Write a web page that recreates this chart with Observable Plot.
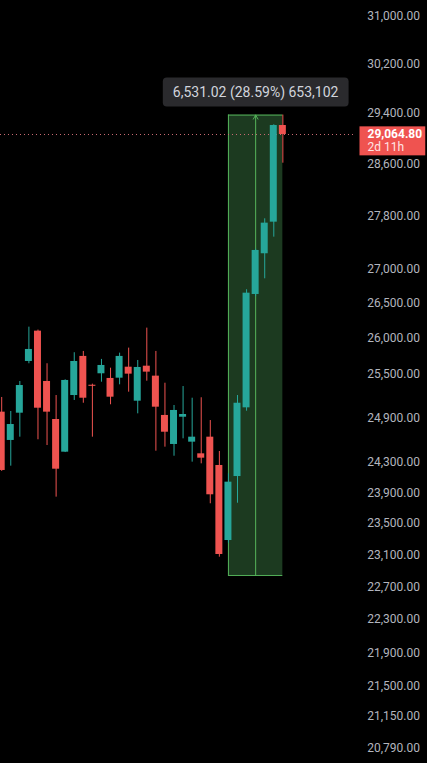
<!DOCTYPE html>
<html><head><meta charset="utf-8">
<script src="https://cdn.jsdelivr.net/npm/d3@7"></script>
<script src="https://cdn.jsdelivr.net/npm/@observablehq/plot@0.6"></script>
<style>
html,body{margin:0;padding:0;background:#000;}
#chart{width:427px;height:763px;overflow:hidden;}
</style></head><body><div id="chart"></div>
<script>
// OHLC values (daily candles)
const opens  = [24975,24592,24961,25676,26105,25397,24875,24435,25203,25747,25345,25504,25439,25443,25596,25125,25610,25471,24930,24538,24906,24569,24413,24636,24258,23284,24112,25034,26633,27232,27706,29208];
const highs  = [25176,24984,25397,26162,26120,25644,25203,25420,25799,25817,25360,25705,25582,25793,25864,25690,26148,25817,25373,25066,25327,25166,25172,24861,24444,24148,25203,26702,27300,27757,29220,29374.74];
const lows   = [24180,24249,24636,25644,24601,24524,23842,24430,25135,25097,24636,25387,25076,25351,25249,24952,25401,24448,24502,24381,24614,24302,24280,23756,23073,23250,23763,24988,26600,26862,27480,28613];
const closes = [24192,24807,25341,25845,25029,24975,24209,25411,25676,25166,25330,25620,25180,25747,25499,25592,25527,25043,24703,24998,24943,24636,24355,23873,23107,24038,25097,26652,27281,27691,29208,29064.80];

const yTicks = [31000,30200,29400,28600,27800,27000,26500,26000,25500,24900,24300,23900,23500,23100,22700,22300,21900,21500,21150,20790];

// price-range measurement
const rangeStart = [25];
const rangeEnd   = [31];
const rangeLow   = [22843.72];
const rangeHigh  = [29374.74];
const rangeLabel = ["6,531.02 (28.59%) 653,102"];

// last price marker
const lastPrice = [29064.80];
const lastLabel = ["29,064.80"];
const countdown = ["2d 11h"];

const UP = "#26a69a", DOWN = "#ef5350", GREEN = "#55b45a";
const candles = opens.map((o, i) => ({i, open: o, high: highs[i], low: lows[i], close: closes[i], up: closes[i] >= o}));
const range = rangeStart.map((s, k) => ({start: s, end: rangeEnd[k], low: rangeLow[k], high: rangeHigh[k], mid: (s + rangeEnd[k]) / 2, label: rangeLabel[k]}));
const last = lastPrice.map((p, k) => ({price: p, label: lastLabel[k], countdown: countdown[k]}));
const half = 0.385;

const plot = Plot.plot({
  width: 427, height: 763,
  marginTop: 0, marginBottom: 0, marginLeft: 0, marginRight: 72,
  style: {background: "#000", fontFamily: "Roboto, sans-serif", fontSize: "12px"},
  x: {type: "linear", domain: [-0.132, 39.01], axis: null},
  y: {type: "log", domain: [20614, 31272], label: null},
  marks: [
    Plot.rect(range, {x1: "start", x2: "end", y1: "low", y2: "high", fill: "#1c3a20"}),
    Plot.ruleY(range, {x1: "start", x2: "end", y: "high", stroke: GREEN}),
    Plot.ruleY(range, {x1: "start", x2: "end", y: "low", stroke: GREEN}),
    Plot.ruleX(range, {x: "start", y1: "low", y2: "high", stroke: GREEN}),
    Plot.arrow(range, {x: "mid", y1: "low", y2: "high", stroke: GREEN, strokeWidth: 1, headLength: 7}),
    Plot.ruleY(last, {y: "price", stroke: "#c86a72", strokeDasharray: "1,3"}),
    Plot.ruleX(candles, {x: "i", y1: "low", y2: "high", stroke: d => d.up ? UP : DOWN}),
    Plot.rect(candles, {x1: d => d.i - half, x2: d => d.i + half, y1: "open", y2: "close", fill: d => d.up ? UP : DOWN}),
    Plot.axisY({anchor: "right", ticks: yTicks, tickSize: 0, tickPadding: 64.5, textAnchor: "end",
      tickFormat: d3.format(",.2f"), color: "#b2b5be", fontSize: 12, label: null}),
    Plot.text(range, {x: "mid", y: "high", text: "label", dy: -23, fill: "#d1d4dc", fontSize: 14}),
    Plot.text(last, {y: "price", text: "label", frameAnchor: "right", dx: 12, textAnchor: "start", fill: "#ffffff", fontWeight: "bold", fontSize: 12}),
    Plot.text(last, {y: "price", text: "countdown", frameAnchor: "right", dx: 12, dy: 13, textAnchor: "start", fill: "#ffe4e4", fontSize: 12})
  ]
});
document.getElementById("chart").append(plot);

// background boxes behind the labels, sized from the rendered text
const NS = "http://www.w3.org/2000/svg";
const textGroups = plot.querySelectorAll('g[aria-label="text"]');
function boxBehind(groups, fill, padL, padR, padT, padB, rx) {
  const s = plot.getBoundingClientRect();
  let x0 = Infinity, y0 = Infinity, x1 = -Infinity, y1 = -Infinity;
  groups.forEach(g => {
    const b = g.getBoundingClientRect();
    x0 = Math.min(x0, b.left - s.left); y0 = Math.min(y0, b.top - s.top);
    x1 = Math.max(x1, b.right - s.left); y1 = Math.max(y1, b.bottom - s.top);
  });
  const r = document.createElementNS(NS, "rect");
  r.setAttribute("x", x0 - padL); r.setAttribute("y", y0 - padT);
  r.setAttribute("width", x1 - x0 + padL + padR); r.setAttribute("height", y1 - y0 + padT + padB);
  r.setAttribute("rx", rx); r.setAttribute("fill", fill);
  plot.insertBefore(r, groups[0]);
}
if (textGroups.length >= 3) {
  boxBehind([textGroups[0]], "#2a2a2d", 10, 10, 6, 6, 4);
  boxBehind([textGroups[1], textGroups[2]], "#ef5350", 8, 3, 1, 1, 0);
}
</script></body></html>
